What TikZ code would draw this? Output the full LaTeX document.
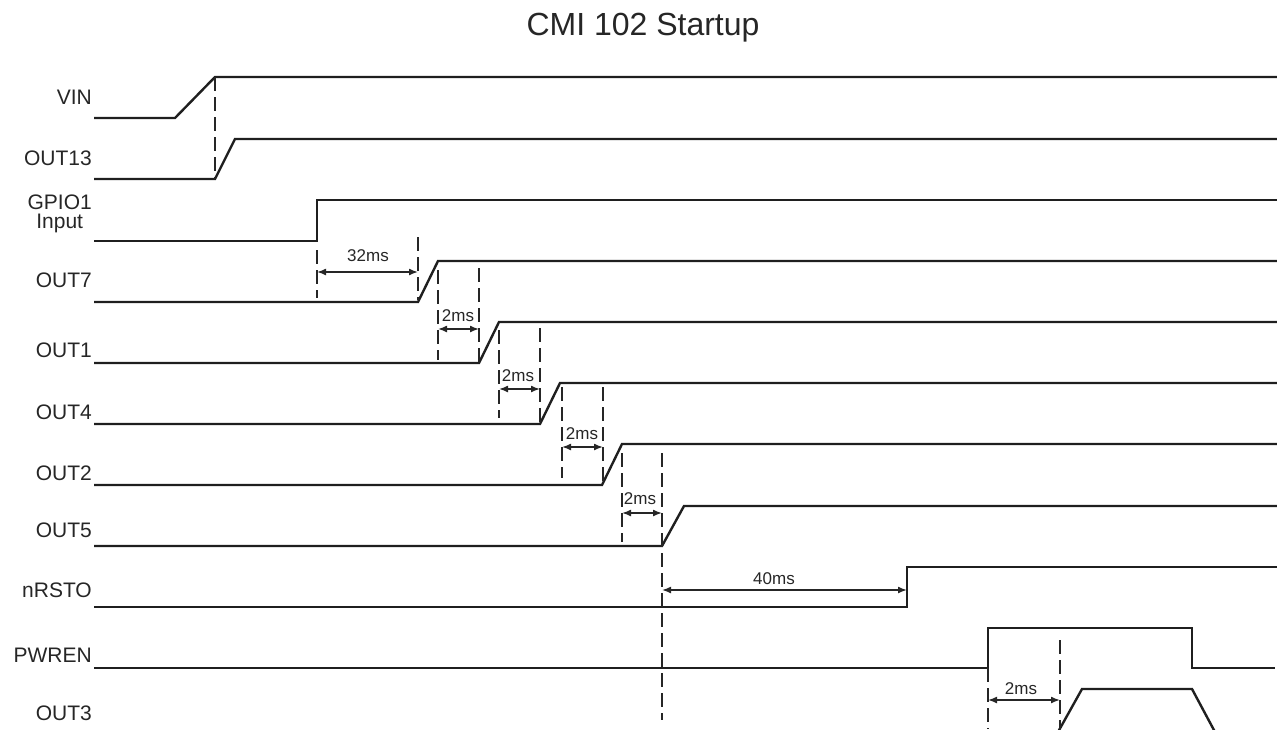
\documentclass[tikz,border=0pt]{standalone}
\usepackage{fontspec}
\setmainfont{Liberation Sans}
\usetikzlibrary{arrows.meta}
\begin{document}
\begin{tikzpicture}[x=1pt,y=-1pt,
  sig/.style={line width=2.4pt, line join=miter, draw=black!88},
  guide/.style={line width=2pt, draw=black!85, dash pattern=on 14pt off 6pt},
  dim/.style={line width=1.5pt, draw=black!85, {Latex[length=9pt,width=7pt]}-{Latex[length=9pt,width=7pt]}},
  lbl/.style={anchor=east, font=\fontsize{21}{22}\selectfont, inner sep=0pt, text=black!85},
  dlbl/.style={font=\fontsize{17}{19}\selectfont, inner sep=0pt, text=black!85}]
\useasboundingbox (0,0) rectangle (1277,729);

% title
\node[font=\fontsize{32}{34}\selectfont, text=black!85] (title) at (643,28) {CMI 102 Startup};

% signal labels
\node[lbl] (lVIN)   at (92,97)  {VIN};
\node[lbl] (lOUT13) at (92,158) {OUT13};
\node[lbl, align=center, font=\fontsize{21}{19}\selectfont] (lGPIO) at (92,214) {GPIO1\\Input};
\node[lbl] (lOUT7)  at (92,280) {OUT7};
\node[lbl] (lOUT1)  at (92,350) {OUT1};
\node[lbl] (lOUT4)  at (92,412) {OUT4};
\node[lbl] (lOUT2)  at (92,473) {OUT2};
\node[lbl] (lOUT5)  at (92,530) {OUT5};
\node[lbl] (lnRSTO) at (92,590) {nRSTO};
\node[lbl] (lPWREN) at (92,655) {PWREN};
\node[lbl] (lOUT3)  at (92,713) {OUT3};

% waveforms
\draw[sig] (94,118) -- (175,118) -- (215,77) -- (1277,77);
\draw[sig] (94,179) -- (215,179) -- (235,139) -- (1277,139);
\draw[sig] (94,241) -- (317,241) -- (317,200) -- (1277,200);
\draw[sig] (94,302) -- (418,302) -- (438,261) -- (1277,261);
\draw[sig] (94,363) -- (479,363) -- (499,322) -- (1277,322);
\draw[sig] (94,424) -- (540,424) -- (560,383) -- (1277,383);
\draw[sig] (94,485) -- (602,485) -- (622,444) -- (1277,444);
\draw[sig] (94,546) -- (662,546) -- (684,506) -- (1277,506);
\draw[sig] (94,607) -- (907,607) -- (907,567) -- (1277,567);
\draw[sig] (94,668) -- (988,668) -- (988,628) -- (1192,628) -- (1192,668) -- (1275,668);
\draw[sig] (1058,732) -- (1082,689) -- (1192,689) -- (1215,732);

% guide lines
\draw[guide] (215,77) -- (215,179);
\draw[guide] (317,250) -- (317,298);
\draw[guide] (418,237) -- (418,300);
\draw[guide] (438,270) -- (438,360);
\draw[guide] (479,268) -- (479,362);
\draw[guide] (499,330) -- (499,418);
\draw[guide] (540,328) -- (540,423);
\draw[guide] (562,387) -- (562,478);
\draw[guide] (603,387) -- (603,484);
\draw[guide] (622,453) -- (622,542);
\draw[guide] (662,453) -- (662,720);
\draw[guide] (988,668) -- (988,729);
\draw[guide] (1060,640) -- (1060,729);

% dimension arrows
\coordinate (d1a) at (317,272); \coordinate (d1b) at (418,272);
\coordinate (d2a) at (438,329); \coordinate (d2b) at (479,329);
\coordinate (d3a) at (499,389); \coordinate (d3b) at (540,389);
\coordinate (d4a) at (562,447); \coordinate (d4b) at (603,447);
\coordinate (d5a) at (622,513); \coordinate (d5b) at (662,513);
\coordinate (d6a) at (662,590); \coordinate (d6b) at (907,590);
\coordinate (d7a) at (988,700); \coordinate (d7b) at (1060,700);
\draw[dim] (d1a) -- (d1b);
\draw[dim] (d2a) -- (d2b);
\draw[dim] (d3a) -- (d3b);
\draw[dim] (d4a) -- (d4b);
\draw[dim] (d5a) -- (d5b);
\draw[dim] (d6a) -- (d6b);
\draw[dim] (d7a) -- (d7b);

\node[dlbl] (t1) at (368,256) {32ms};
\node[dlbl] (t2) at (458,316) {2ms};
\node[dlbl] (t3) at (518,376) {2ms};
\node[dlbl] (t4) at (582,434) {2ms};
\node[dlbl] (t5) at (640,499) {2ms};
\node[dlbl] (t6) at (774,579) {40ms};
\node[dlbl] (t7) at (1021,689) {2ms};
\end{tikzpicture}
\end{document}
